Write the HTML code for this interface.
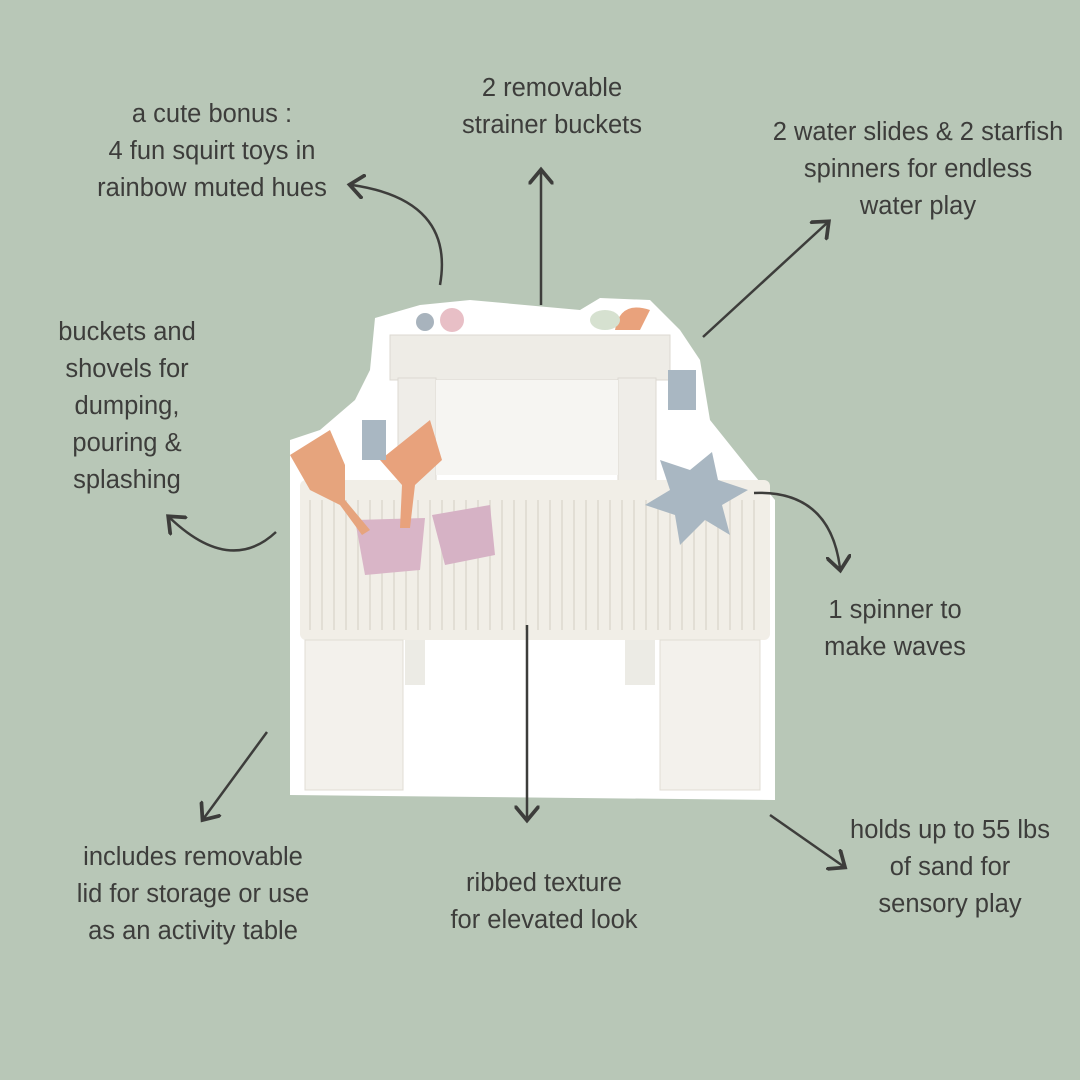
<!DOCTYPE html>
<html><head><meta charset="utf-8"><style>
html,body{margin:0;padding:0}
body{width:1080px;height:1080px;background:#b8c7b7;position:relative;overflow:hidden;font-family:"Liberation Sans",sans-serif;color:#3d3d3b}
.t{position:absolute;font-size:25.5px;line-height:37px;text-align:center;white-space:nowrap}
svg{position:absolute;left:0;top:0}
</style></head><body>
<svg width="1080" height="1080" viewBox="0 0 1080 1080">
<defs><marker id="a" markerWidth="10" markerHeight="10" refX="5" refY="5" orient="auto"><path d="M0,0 L6,5 L0,10" fill="none" stroke="#3d3d3b" stroke-width="1.5"/></marker></defs>
<path d="M375,318 L420,305 L470,300 L580,310 L600,298 L650,300 L680,330 L700,360 L710,420 L750,470 L775,500 L775,800 L290,795 L290,440 L320,430 L355,400 L370,370 Z" fill="#ffffff"/>
<rect x="390" y="335" width="280" height="45" fill="#eeece6" stroke="#dcd9d2"/>
<rect x="398" y="378" width="38" height="110" fill="#efede8" stroke="#dcd9d2"/>
<rect x="618" y="378" width="38" height="110" fill="#efede8" stroke="#dcd9d2"/>
<rect x="436" y="380" width="182" height="95" fill="#f6f5f2"/>
<rect x="300" y="480" width="470" height="160" rx="6" fill="#f1eee7"/>
<g stroke="#e2ded5" stroke-width="2">
<path d="M310,500V630M322,500V630M334,500V630M346,500V630M358,500V630M370,500V630M382,500V630M394,500V630M406,500V630M418,500V630M430,500V630M442,500V630M454,500V630M466,500V630M478,500V630M490,500V630M502,500V630M514,500V630M526,500V630M538,500V630M550,500V630M562,500V630M574,500V630M586,500V630M598,500V630M610,500V630M622,500V630M634,500V630M646,500V630M658,500V630M670,500V630M682,500V630M694,500V630M706,500V630M718,500V630M730,500V630M742,500V630M754,500V630"/>
</g>
<rect x="305" y="640" width="98" height="150" fill="#f3f1ec" stroke="#e0ddd5"/>
<rect x="660" y="640" width="100" height="150" fill="#f3f1ec" stroke="#e0ddd5"/>
<rect x="405" y="640" width="20" height="45" fill="#ecebe5"/>
<rect x="625" y="640" width="30" height="45" fill="#ecebe5"/>
<path d="M660,460 L690,470 L712,452 L718,480 L748,490 L722,505 L730,535 L705,520 L680,545 L675,515 L645,505 L670,490 Z" fill="#a9b7c2"/>
<path d="M355,520 L425,518 L420,570 L365,575 Z" fill="#d9b5c7"/>
<path d="M432,515 L490,505 L495,555 L445,565 Z" fill="#d6b2c5"/>
<path d="M290,455 L330,430 L345,465 L345,500 L370,530 L362,535 L340,505 L310,490 Z" fill="#e6a47d"/>
<path d="M380,460 L430,420 L442,460 L415,485 L410,528 L400,528 L402,485 Z" fill="#e8a27c"/>
<circle cx="425" cy="322" r="9" fill="#a8b3bd"/><circle cx="452" cy="320" r="12" fill="#e8bfc6"/>
<path d="M615,330 Q620,300 650,310 L640,330 Z" fill="#e9a27c"/>
<ellipse cx="605" cy="320" rx="15" ry="10" fill="#d6e1d0"/>
<rect x="668" y="370" width="28" height="40" fill="#a9b7c2"/>
<rect x="362" y="420" width="24" height="40" fill="#a9b7c2"/>
<g fill="none" stroke="#3d3d3b" stroke-width="2.5" marker-end="url(#a)">
<path d="M440,285 Q455,200 352,185"/>
<path d="M541,305 L541,172"/>
<path d="M703,337 L827,223"/>
<path d="M276,532 Q230,575 170,518"/>
<path d="M754,493 Q830,490 840,568"/>
<path d="M267,732 L204,818"/>
<path d="M527,625 L527,818"/>
<path d="M770,815 L843,866"/>
</g>
</svg>
<div class="t" style="left:212px;top:96px;transform:translateX(-50%)">a cute bonus :<br>4 fun squirt toys in<br>rainbow muted hues</div>
<div class="t" style="left:552px;top:70px;transform:translateX(-50%)">2 removable<br>strainer buckets</div>
<div class="t" style="left:918px;top:114px;transform:translateX(-50%)">2 water slides &amp; 2 starfish<br>spinners for endless<br>water play</div>
<div class="t" style="left:127px;top:314px;transform:translateX(-50%)">buckets and<br>shovels for<br>dumping,<br>pouring &amp;<br>splashing</div>
<div class="t" style="left:895px;top:592px;transform:translateX(-50%)">1 spinner to<br>make waves</div>
<div class="t" style="left:193px;top:839px;transform:translateX(-50%)">includes removable<br>lid for storage or use<br>as an activity table</div>
<div class="t" style="left:544px;top:865px;transform:translateX(-50%)">ribbed texture<br>for elevated look</div>
<div class="t" style="left:950px;top:812px;transform:translateX(-50%)">holds up to 55 lbs<br>of sand for<br>sensory play</div>
</body></html>
